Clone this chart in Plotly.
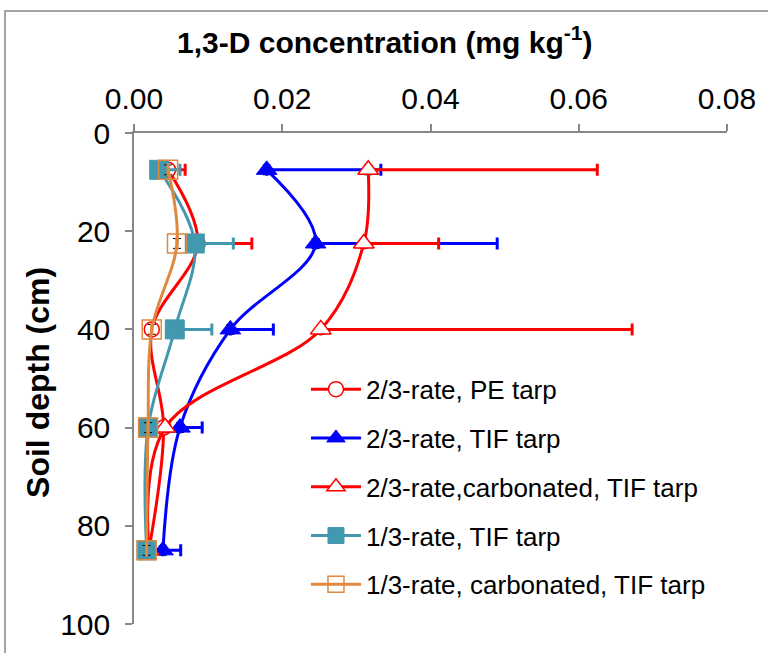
import plotly.graph_objects as go

# Sampling depths (cm)
depth = [7.5, 22.5, 40, 60, 85]

# 1,3-D concentration (mg kg-1) and upper error for each treatment
pe_23 = [0.0046, 0.0086, 0.0024, 0.0040, 0.0020]
pe_23_err = [0.0023, 0.0073, 0.0, 0.0, 0.0]

tif_23 = [0.0179, 0.0245, 0.0130, 0.0062, 0.0039]
tif_23_err = [0.0154, 0.0245, 0.0058, 0.0030, 0.0024]

carb_tif_23 = [0.0316, 0.0310, 0.0252, 0.0042, 0.0020]
carb_tif_23_err = [0.0309, 0.0101, 0.0420, 0.0, 0.0]

tif_13 = [0.0034, 0.0082, 0.0055, 0.0019, 0.0017]
tif_13_err = [0.0028, 0.0052, 0.0050, 0.0, 0.0]

carb_tif_13 = [0.0046, 0.0058, 0.0024, 0.0019, 0.0017]
carb_tif_13_err = [0.0, 0.0, 0.0, 0.0, 0.0]

names = [
    "2/3-rate, PE tarp",
    "2/3-rate, TIF tarp",
    "2/3-rate,carbonated, TIF tarp",
    "1/3-rate, TIF tarp",
    "1/3-rate, carbonated, TIF tarp",
]

RED = "#FF0000"
BLUE = "#0000FF"
TEAL = "#4298AF"
ORANGE = "#E0883E"

series = [
    (pe_23, pe_23_err, RED, dict(symbol="circle", size=15, color="white",
                                 line=dict(color=RED, width=1.5))),
    (tif_23, tif_23_err, BLUE, dict(symbol="triangle-up", size=18, color=BLUE,
                                    line=dict(color=BLUE, width=1))),
    (carb_tif_23, carb_tif_23_err, RED, dict(symbol="triangle-up", size=18, color="white",
                                             line=dict(color=RED, width=1.5))),
    (tif_13, tif_13_err, TEAL, dict(symbol="square", size=19, color=TEAL,
                                    line=dict(color=TEAL, width=1))),
    (carb_tif_13, carb_tif_13_err, ORANGE, dict(symbol="square", size=19,
                                                color="rgba(0,0,0,0)",
                                                line=dict(color=ORANGE, width=1.5))),
]

fig = go.Figure()
for i, (xs, err, col, mk) in enumerate(series):
    fig.add_trace(go.Scatter(
        x=xs, y=depth, name=names[i], legendgroup=f"g{i}",
        mode="lines+markers",
        line=dict(color=col, width=3, shape="spline", smoothing=1.0),
        marker=mk,
        error_x=dict(type="data", array=err, arrayminus=[0] * len(err),
                     symmetric=False, color=col, thickness=3, width=6),
        error_y=dict(type="constant", value=1.0, color="black",
                     thickness=1, width=4),
    ))

FONT = "Liberation Sans, Arial, sans-serif"

fig.update_layout(
    width=768, height=653,
    margin=dict(l=134, r=41, t=133, b=29),
    paper_bgcolor="white", plot_bgcolor="white",
    font=dict(family=FONT, color="black"),
    showlegend=True,
    legend=dict(
        x=0.29, y=0.526, xanchor="left", yanchor="top",
        font=dict(size=26, family=FONT, color="black"),
        bgcolor="rgba(0,0,0,0)", itemwidth=50, tracegroupgap=12,
    ),
    xaxis=dict(
        side="top", range=[0, 0.08], dtick=0.02, tickformat=".2f",
        showline=True, linecolor="#878787", linewidth=1.5,
        ticks="outside", ticklen=7, tickcolor="#878787", tickwidth=1.5,
        showgrid=False, zeroline=False, ticklabelstandoff=3,
        tickfont=dict(size=30, family=FONT),
    ),
    yaxis=dict(
        range=[100, 0], dtick=20,
        showline=True, linecolor="#878787", linewidth=1.5,
        ticks="outside", ticklen=7, tickcolor="#878787", tickwidth=1.5,
        showgrid=False, zeroline=False, ticklabelstandoff=9,
        tickfont=dict(size=30, family=FONT),
    ),
)

# Axis titles placed over the chart area
fig.add_annotation(
    text="<b>1,3-D concentration (mg kg<sup>-1</sup>)</b>",
    xref="paper", yref="paper", x=0.4216, y=1.19,
    xanchor="center", yanchor="middle", showarrow=False,
    font=dict(size=30, family=FONT, color="black"),
)
fig.add_annotation(
    text="<b>Soil depth (cm)</b>", textangle=-90,
    xref="paper", yref="paper", x=-0.1619, y=0.493,
    xanchor="center", yanchor="middle", showarrow=False,
    font=dict(size=32, family=FONT, color="black"),
)

# Chart area frame
fig.add_shape(type="rect", xref="paper", yref="paper",
              x0=-0.2175, x1=1.5, y0=-0.5, y1=1.2485,
              line=dict(color="#878787", width=1.5), layer="below")

fig.write_html("out.html")
